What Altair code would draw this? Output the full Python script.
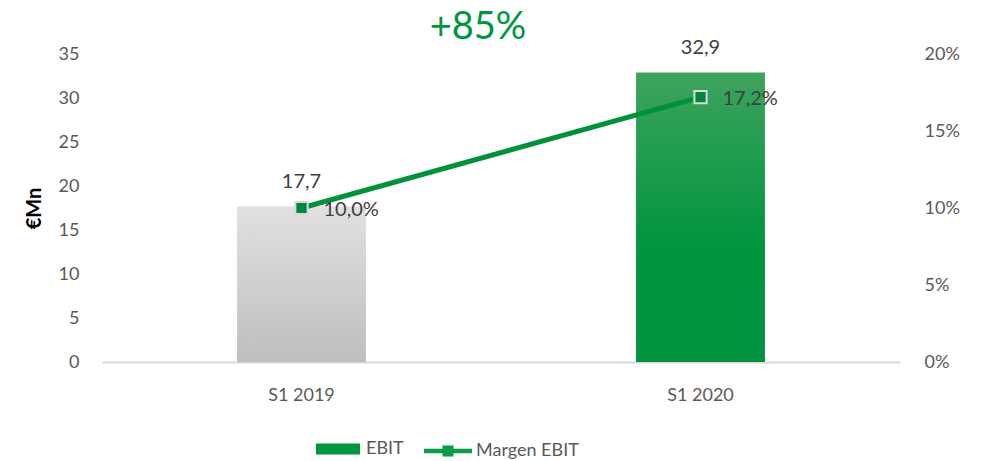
import altair as alt
import pandas as pd

periods = ["S1 2019", "S1 2020"]
ebit = [17.7, 32.9]
margin = [0.100, 0.172]
ebit_labels = ["17,7", "32,9"]
margin_labels = ["10,0%", "17,2%"]
y_left_ticks = [0, 5, 10, 15, 20, 25, 30, 35]
y_right_ticks = [0, 0.05, 0.10, 0.15, 0.20]

df = pd.DataFrame({
    "period": periods,
    "ebit": ebit,
    "margin": margin,
    "ebit_label": ebit_labels,
    "margin_label": margin_labels,
})

FONT = "Lato"
LABEL_COLOR = "#595959"

grey_grad = alt.Gradient(
    gradient="linear", x1=0, y1=0, x2=0, y2=1,
    stops=[alt.GradientStop(color="#E2E1E1", offset=0),
           alt.GradientStop(color="#BFBEBE", offset=1)],
)
green_grad = alt.Gradient(
    gradient="linear", x1=0, y1=0, x2=0, y2=1,
    stops=[alt.GradientStop(color="#3EA35D", offset=0),
           alt.GradientStop(color="#00953F", offset=0.6),
           alt.GradientStop(color="#00923E", offset=1)],
)

x = alt.X(
    "period:N", sort=periods, title=None,
    scale=alt.Scale(paddingInner=0.677, paddingOuter=0.3385),
    axis=alt.Axis(labelAngle=0, labelFontSize=18, labelFont=FONT, labelColor=LABEL_COLOR,
                  labelPadding=24, ticks=False, domainColor="#D9D9D9", domainWidth=2),
)
y_left = alt.Y(
    "ebit:Q", title="€Mn",
    scale=alt.Scale(domain=[0, 35], nice=False),
    axis=alt.Axis(values=y_left_ticks, grid=False, ticks=False, domain=False,
                  labelFontSize=18, labelFont=FONT, labelColor=LABEL_COLOR, labelPadding=23,
                  titleFontSize=20, titleFont=FONT, titleFontWeight="bold", titleColor="#000000",
                  titlePadding=14),
)

base = alt.Chart(df)

bar_grey = base.mark_bar(fill=grey_grad).encode(x=x, y=y_left).transform_filter(
    alt.datum.period == periods[0])
bar_green = base.mark_bar(fill=green_grad).encode(x=x, y=y_left).transform_filter(
    alt.datum.period == periods[1])
bar_text = base.mark_text(baseline="bottom", dy=-14, fontSize=20, font=FONT, color="#404040").encode(
    x=x, y=y_left, text="ebit_label:N")

y_right = alt.Y(
    "margin:Q", title=None,
    scale=alt.Scale(domain=[0, 0.20], nice=False),
    axis=alt.Axis(orient="right", values=y_right_ticks, format=".0%", grid=False, ticks=False,
                  domain=False, labelFontSize=18, labelFont=FONT, labelColor=LABEL_COLOR,
                  labelPadding=24),
)
line = base.mark_line(color="#00913A", strokeWidth=5).encode(x=x, y=y_right)
pts = base.mark_square(size=150, fill="#00873C", stroke="#D9D9D9", strokeWidth=2, opacity=1).encode(
    x=x, y=y_right)
pt_text = base.mark_text(align="left", dx=22, dy=2, fontSize=20, font=FONT, color="#404040").encode(
    x=x, y=y_right, text="margin_label:N")

legend_common = dict(title=None, orient="none", padding=0, labelFontSize=18, labelFont=FONT,
                     labelColor=LABEL_COLOR, symbolStrokeWidth=0, symbolOpacity=1)

leg_a = base.transform_calculate(lg="'EBIT'").transform_filter("false").mark_square().encode(
    x=x, y=y_right,
    color=alt.Color("lg:N", scale=alt.Scale(domain=["EBIT"], range=["#00963F"]),
                    legend=alt.Legend(legendX=214, legendY=373, symbolType="M-1,-0.25H1V0.25H-1Z",
                                      symbolSize=1936, labelOffset=6, **legend_common)),
)
leg_b = base.transform_calculate(lg2="'Margen EBIT'").transform_filter("false").mark_square().encode(
    x=x, y=y_right,
    fill=alt.Fill("lg2:N", scale=alt.Scale(domain=["Margen EBIT"], range=["#0A9E48"]),
                  legend=alt.Legend(legendX=322, legendY=373,
                                    symbolType="M-1,-0.09H-0.23V-0.23H0.23V-0.09H1V0.09H0.23V0.23H-0.23V0.09H-1Z",
                                    symbolSize=2304, labelOffset=4, **legend_common)),
)

left = alt.layer(bar_grey, bar_green, bar_text)
right = alt.layer(line, pts, pt_text, leg_a, leg_b)

chart = alt.layer(left, right).resolve_scale(y="independent", color="independent", fill="independent").properties(
    width=798, height=308,
    autosize=alt.AutoSizeParams(type="none"),
    padding={"left": 94, "top": 46, "right": 76, "bottom": 102},
    title=alt.TitleParams("+85%", fontSize=38, font=FONT, fontWeight="normal", color="#00963F",
                          anchor="middle", dx=-23, offset=-9),
).configure_view(stroke=None)

chart.save("out.html", embed_options={"renderer": "svg", "actions": False})
